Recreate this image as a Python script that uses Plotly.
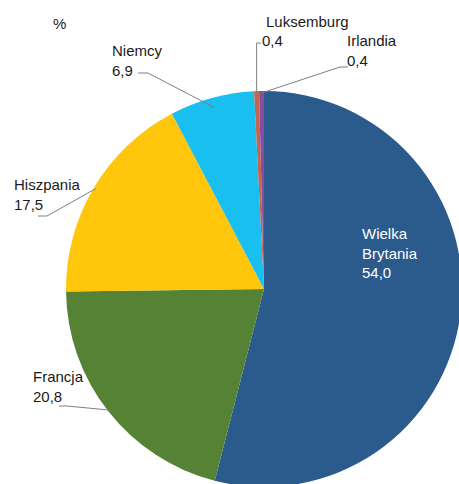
import math
import plotly.graph_objects as go

# ---- data ----
countries = ["Wielka Brytania", "Francja", "Hiszpania", "Niemcy", "Luksemburg", "Irlandia"]
shares = [54.0, 20.8, 17.5, 6.9, 0.4, 0.4]
value_labels = ["54,0", "20,8", "17,5", "6,9", "0,4", "0,4"]
colors = ["#2B5A8D", "#558235", "#FFC60B", "#19BFEF", "#C2664E", "#8A4C9E"]

# figure a bit larger than the window; the page is clipped like the original
W, H = 472, 496
# pie geometry in target pixels (top-left origin)
CX, CY, R = 264.0, 289.0, 198.0

def px(x):
    return x / W

def py(y):
    return 1 - y / H

fig = go.Figure(go.Pie(
    labels=countries,
    values=shares,
    sort=False,
    direction="clockwise",
    rotation=0,
    marker=dict(colors=colors, line=dict(width=0)),
    textinfo="none",
    hoverinfo="label+value",
    showlegend=False,
    domain=dict(x=[px(CX - R), px(CX + R)], y=[py(CY + R), py(CY - R)]),
))

# mid-angle of each slice (degrees clockwise from 12 o'clock)
total = sum(shares)
mids = []
acc = 0.0
for v in shares:
    mids.append((acc + v / 2) / total * 360.0)
    acc += v

def edge(i, f=0.99):
    a = math.radians(mids[i])
    return CX + f * R * math.sin(a), CY - f * R * math.cos(a)

FONT = "Liberation Sans, Arial, sans-serif"
FS = 15
LINE = "#7F7F7F"

annotations = []
shapes = []

def txt(s, x, y, color="#1A1A1A", size=FS):
    annotations.append(dict(
        text=s, x=px(x), y=py(y), xref="paper", yref="paper",
        xanchor="left", yanchor="middle", align="left", showarrow=False,
        font=dict(family=FONT, size=size, color=color),
    ))

def leader(points):
    d = "M " + " L ".join(f"{px(x)},{py(y)}" for x, y in points)
    shapes.append(dict(type="path", path=d, xref="paper", yref="paper",
                       line=dict(color=LINE, width=1)))

# "%" unit label
txt("%", 51, 23)

# Wielka Brytania (inside, white)
txt("Wielka<br>Brytania<br>" + value_labels[0], 360, 253, color="white")

# Francja
txt(countries[1] + "<br>" + value_labels[1], 31, 386)
leader([(59, 406), (67, 406), edge(1)])

# Hiszpania
txt(countries[2] + "<br>" + value_labels[2], 12, 195)
leader([(38, 216), (47, 216), edge(2)])

# Niemcy
txt(countries[3] + "<br>" + value_labels[3], 110, 60)
leader([(138, 73), (148, 73), edge(3, 0.95)])

# Luksemburg (value line sits slightly left of the name)
txt(countries[4], 264, 21)
txt(value_labels[4], 260, 40)
ex, ey = edge(4)
leader([(261, 43), (ex, 43), (ex, ey)])

# Irlandia
txt(countries[5] + "<br>" + value_labels[5], 345, 51)
leader([(348, 67), (340, 67), edge(5)])

fig.update_layout(
    width=W, height=H,
    margin=dict(l=0, r=0, t=0, b=0),
    paper_bgcolor="white",
    plot_bgcolor="white",
    annotations=annotations,
    shapes=shapes,
)

fig.write_html(
    "out.html",
    config={"displayModeBar": False},
    post_script=(
        "document.body.style.margin='0';"
        "document.body.style.overflow='hidden';"
        "document.documentElement.style.overflow='hidden';"
    ),
)
